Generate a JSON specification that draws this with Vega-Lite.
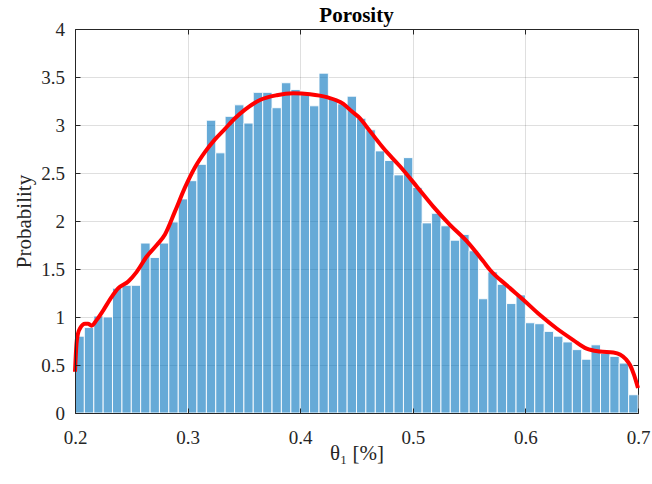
{
  "$schema": "https://vega.github.io/schema/vega-lite/v6.json",
  "width": 563,
  "height": 384,
  "autosize": {"type": "none"},
  "padding": {"left": 75, "top": 29, "right": 14, "bottom": 71},
  "background": "white",
  "title": {"text": "Porosity", "font": "Liberation Serif", "fontSize": 21, "fontWeight": "bold", "color": "black", "anchor": "middle", "baseline": "alphabetic", "offset": 8, "dy": 31},
  "config": {
    "view": {"stroke": null},
    "font": "Liberation Serif",
    "axis": {"labelFont": "Liberation Serif", "titleFont": "Liberation Serif", "labelColor": "#262626", "titleColor": "#262626", "domainColor": "#262626", "tickColor": "#262626", "labelFontSize": 19, "titleFontSize": 21, "titleFontWeight": "normal", "labelFlush": false, "labelOverlap": false, "labelBound": false}
  },
  "datasets": {
    "bars": [
      {"lo": 0.2000, "hi": 0.2083, "p": 0.80},
      {"lo": 0.2083, "hi": 0.2167, "p": 0.89},
      {"lo": 0.2167, "hi": 0.2250, "p": 1.01},
      {"lo": 0.2250, "hi": 0.2333, "p": 1.00},
      {"lo": 0.2333, "hi": 0.2417, "p": 1.30},
      {"lo": 0.2417, "hi": 0.2500, "p": 1.33},
      {"lo": 0.2500, "hi": 0.2583, "p": 1.33},
      {"lo": 0.2583, "hi": 0.2667, "p": 1.77},
      {"lo": 0.2667, "hi": 0.2750, "p": 1.62},
      {"lo": 0.2750, "hi": 0.2833, "p": 1.77},
      {"lo": 0.2833, "hi": 0.2917, "p": 1.99},
      {"lo": 0.2917, "hi": 0.3000, "p": 2.23},
      {"lo": 0.3000, "hi": 0.3083, "p": 2.42},
      {"lo": 0.3083, "hi": 0.3167, "p": 2.59},
      {"lo": 0.3167, "hi": 0.3250, "p": 3.05},
      {"lo": 0.3250, "hi": 0.3333, "p": 2.71},
      {"lo": 0.3333, "hi": 0.3417, "p": 3.09},
      {"lo": 0.3417, "hi": 0.3500, "p": 3.21},
      {"lo": 0.3500, "hi": 0.3583, "p": 3.02},
      {"lo": 0.3583, "hi": 0.3667, "p": 3.34},
      {"lo": 0.3667, "hi": 0.3750, "p": 3.34},
      {"lo": 0.3750, "hi": 0.3833, "p": 3.18},
      {"lo": 0.3833, "hi": 0.3917, "p": 3.44},
      {"lo": 0.3917, "hi": 0.4000, "p": 3.37},
      {"lo": 0.4000, "hi": 0.4083, "p": 3.34},
      {"lo": 0.4083, "hi": 0.4167, "p": 3.20},
      {"lo": 0.4167, "hi": 0.4250, "p": 3.54},
      {"lo": 0.4250, "hi": 0.4333, "p": 3.28},
      {"lo": 0.4333, "hi": 0.4417, "p": 3.22},
      {"lo": 0.4417, "hi": 0.4500, "p": 3.30},
      {"lo": 0.4500, "hi": 0.4583, "p": 3.07},
      {"lo": 0.4583, "hi": 0.4667, "p": 2.95},
      {"lo": 0.4667, "hi": 0.4750, "p": 2.73},
      {"lo": 0.4750, "hi": 0.4833, "p": 2.63},
      {"lo": 0.4833, "hi": 0.4917, "p": 2.48},
      {"lo": 0.4917, "hi": 0.5000, "p": 2.66},
      {"lo": 0.5000, "hi": 0.5083, "p": 2.35},
      {"lo": 0.5083, "hi": 0.5167, "p": 1.98},
      {"lo": 0.5167, "hi": 0.5250, "p": 2.08},
      {"lo": 0.5250, "hi": 0.5333, "p": 1.95},
      {"lo": 0.5333, "hi": 0.5417, "p": 1.80},
      {"lo": 0.5417, "hi": 0.5500, "p": 1.86},
      {"lo": 0.5500, "hi": 0.5583, "p": 1.69},
      {"lo": 0.5583, "hi": 0.5667, "p": 1.19},
      {"lo": 0.5667, "hi": 0.5750, "p": 1.47},
      {"lo": 0.5750, "hi": 0.5833, "p": 1.34},
      {"lo": 0.5833, "hi": 0.5917, "p": 1.14},
      {"lo": 0.5917, "hi": 0.6000, "p": 1.23},
      {"lo": 0.6000, "hi": 0.6083, "p": 0.94},
      {"lo": 0.6083, "hi": 0.6167, "p": 0.93},
      {"lo": 0.6167, "hi": 0.6250, "p": 0.85},
      {"lo": 0.6250, "hi": 0.6333, "p": 0.80},
      {"lo": 0.6333, "hi": 0.6417, "p": 0.74},
      {"lo": 0.6417, "hi": 0.6500, "p": 0.66},
      {"lo": 0.6500, "hi": 0.6583, "p": 0.56},
      {"lo": 0.6583, "hi": 0.6667, "p": 0.71},
      {"lo": 0.6667, "hi": 0.6750, "p": 0.62},
      {"lo": 0.6750, "hi": 0.6833, "p": 0.59},
      {"lo": 0.6833, "hi": 0.6917, "p": 0.52},
      {"lo": 0.6917, "hi": 0.7000, "p": 0.19}
    ],
    "pdf": [
      {"x": 0.2000, "y": 0.43},
      {"x": 0.2013, "y": 0.72},
      {"x": 0.2027, "y": 0.83},
      {"x": 0.2044, "y": 0.88},
      {"x": 0.2089, "y": 0.93},
      {"x": 0.2115, "y": 0.93},
      {"x": 0.2148, "y": 0.91},
      {"x": 0.2193, "y": 0.97},
      {"x": 0.2251, "y": 1.07},
      {"x": 0.2326, "y": 1.21},
      {"x": 0.2385, "y": 1.30},
      {"x": 0.2473, "y": 1.37},
      {"x": 0.2548, "y": 1.47},
      {"x": 0.2637, "y": 1.63},
      {"x": 0.2726, "y": 1.75},
      {"x": 0.2799, "y": 1.86},
      {"x": 0.2888, "y": 2.10},
      {"x": 0.2977, "y": 2.35},
      {"x": 0.3066, "y": 2.56},
      {"x": 0.3155, "y": 2.72},
      {"x": 0.3243, "y": 2.85},
      {"x": 0.3332, "y": 2.96},
      {"x": 0.3421, "y": 3.07},
      {"x": 0.3510, "y": 3.16},
      {"x": 0.3643, "y": 3.26},
      {"x": 0.3791, "y": 3.31},
      {"x": 0.3939, "y": 3.33},
      {"x": 0.4087, "y": 3.32},
      {"x": 0.4235, "y": 3.29},
      {"x": 0.4383, "y": 3.22},
      {"x": 0.4460, "y": 3.14},
      {"x": 0.4531, "y": 3.07},
      {"x": 0.4591, "y": 2.98},
      {"x": 0.4738, "y": 2.76},
      {"x": 0.4886, "y": 2.57},
      {"x": 0.5035, "y": 2.36},
      {"x": 0.5182, "y": 2.15},
      {"x": 0.5330, "y": 1.96},
      {"x": 0.5479, "y": 1.79},
      {"x": 0.5626, "y": 1.58},
      {"x": 0.5686, "y": 1.49},
      {"x": 0.5834, "y": 1.33},
      {"x": 0.5981, "y": 1.18},
      {"x": 0.6130, "y": 1.02},
      {"x": 0.6278, "y": 0.88},
      {"x": 0.6425, "y": 0.76},
      {"x": 0.6544, "y": 0.67},
      {"x": 0.6662, "y": 0.64},
      {"x": 0.6781, "y": 0.63},
      {"x": 0.6840, "y": 0.61},
      {"x": 0.6893, "y": 0.56},
      {"x": 0.6929, "y": 0.50},
      {"x": 0.6964, "y": 0.40},
      {"x": 0.7000, "y": 0.26}
    ]
  },
  "layer": [
    {
      "data": {"name": "bars"},
      "mark": {"type": "bar", "fill": "#0072bd", "fillOpacity": 0.6, "stroke": "white", "strokeWidth": 1, "strokeOpacity": 0.9},
      "encoding": {
        "x": {"field": "lo", "type": "quantitative", "scale": {"domain": [0.2, 0.7], "nice": false, "zero": false},
          "axis": {"orient": "bottom", "values": [0.2, 0.3, 0.4, 0.5, 0.6, 0.7], "format": "~g", "grid": false, "tickSize": -5, "labelPadding": 20, "title": "θ₁ [%]", "titleX": 281.5, "titleY": 46, "titleBaseline": "alphabetic", "titleAlign": "center", "zindex": 1}},
        "x2": {"field": "hi"},
        "y": {"field": "p", "type": "quantitative", "scale": {"domain": [0, 4], "nice": false},
          "axis": {"orient": "left", "values": [0, 0.5, 1, 1.5, 2, 2.5, 3, 3.5, 4], "format": "~g", "grid": false, "tickSize": -5, "labelPadding": 15.5, "title": "Probability", "titleX": -45, "titleY": 192, "titleAngle": 270, "titleBaseline": "alphabetic", "titleAlign": "center", "zindex": 1}},
        "y2": {"datum": 0}
      }
    },
    {
      "data": {"name": "pdf"},
      "mark": {"type": "line", "color": "#ff0000", "strokeWidth": 4, "interpolate": "monotone"},
      "encoding": {
        "x": {"field": "x", "type": "quantitative",
          "axis": {"orient": "top", "values": [0.2, 0.3, 0.4, 0.5, 0.6, 0.7], "labels": false, "title": null, "grid": true, "gridColor": "#262626", "gridOpacity": 0.15, "gridWidth": 1, "tickSize": -5, "zindex": 0}},
        "y": {"field": "y", "type": "quantitative",
          "axis": {"orient": "right", "values": [0, 0.5, 1, 1.5, 2, 2.5, 3, 3.5, 4], "labels": false, "title": null, "grid": true, "gridColor": "#262626", "gridOpacity": 0.15, "gridWidth": 1, "tickSize": -5, "zindex": 0}}
      }
    }
  ],
  "resolve": {"axis": {"x": "independent", "y": "independent"}}
}
